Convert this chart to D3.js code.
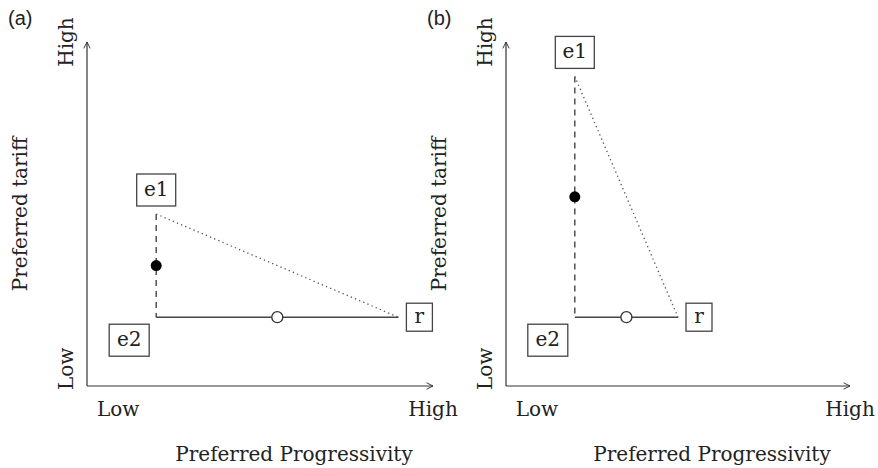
<!DOCTYPE html>
<html>
<head>
<meta charset="utf-8">
<script src="https://cdn.jsdelivr.net/npm/d3@7"></script>
<style>
    body { margin: 0; background: #fff; }
    svg text { fill: #222; }
</style>
</head>
<body>
<svg id="chart" width="878" height="468"></svg>
<script>
// abstract positions on a 0..10 scale for each panel
let panelNames = ["(a)", "(b)"];
let pointNames = ["e1", "e2", "r"];
let pointsA = [[2, 5], [2, 2], [9, 2]];
let pointsB = [[2, 9], [2, 2], [5, 2]];
let filledA = [2, 3.5], openA = [5.5, 2];
let filledB = [2, 5.5], openB = [3.5, 2];
let axisTickLabels = ["Low", "High"];
let xTitle = "Preferred Progressivity";
let yTitle = "Preferred tariff";

let panels = [
    { name: panelNames[0], points: pointsA, filled: filledA, open: openA, left: 87, right: 433 },
    { name: panelNames[1], points: pointsB, filled: filledB, open: openB, left: 506, right: 850 },
];

let svg = d3.select("#chart");
let defs = svg.append("defs");
defs.append("marker")
    .attr("id", "arrow")
    .attr("viewBox", "0 0 10 10")
    .attr("refX", 9).attr("refY", 5)
    .attr("markerWidth", 8).attr("markerHeight", 8)
    .attr("markerUnits", "userSpaceOnUse")
    .attr("orient", "auto")
    .append("path")
    .attr("d", "M1,1 L9,5 L1,9")
    .attr("fill", "none")
    .attr("stroke", "#333")
    .attr("stroke-width", 1.2);

let serif = "DejaVu Serif";
let fontSize = 20;
let boxOffsets = {
    e1: [0, -24],
    e2: [-27, 23],
    r: [21, 0],
};
let boxSizes = {
    e1: [39, 32],
    e2: [40, 32],
    r: [26, 28],
};

for (let panel of panels) {
    let x = d3.scaleLinear().domain([0, 10]).range([panel.left, panel.right]);
    let y = d3.scaleLinear().domain([0, 10]).range([386, 42]);
    let g = svg.append("g");

    // axes
    g.append("line")
        .attr("x1", x(0)).attr("y1", y(0)).attr("x2", x(10)).attr("y2", y(0))
        .attr("stroke", "#333").attr("stroke-width", 1.2)
        .attr("marker-end", "url(#arrow)");
    g.append("line")
        .attr("x1", x(0)).attr("y1", y(0)).attr("x2", x(0)).attr("y2", y(10))
        .attr("stroke", "#333").attr("stroke-width", 1.2)
        .attr("marker-end", "url(#arrow)");

    // panel tag
    g.append("text")
        .attr("x", panel.left - 79)
        .attr("y", 25)
        .attr("font-family", "Liberation Sans")
        .attr("font-size", 20)
        .text(panel.name);

    // tick labels on x
    g.append("text")
        .attr("x", x(0.9)).attr("y", 416)
        .attr("text-anchor", "middle")
        .attr("font-family", serif).attr("font-size", fontSize)
        .text(axisTickLabels[0]);
    g.append("text")
        .attr("x", x(10)).attr("y", 416)
        .attr("text-anchor", "middle")
        .attr("font-family", serif).attr("font-size", fontSize)
        .text(axisTickLabels[1]);
    g.append("text")
        .attr("x", (x(0) + x(10)) / 2 + 34).attr("y", 461)
        .attr("text-anchor", "middle")
        .attr("font-family", serif).attr("font-size", fontSize)
        .text(xTitle);

    // tick labels on y (rotated)
    let yLabelX = x(0) - 14;
    g.append("text")
        .attr("transform", `translate(${yLabelX}, ${y(0.5)}) rotate(-90)`)
        .attr("text-anchor", "middle")
        .attr("font-family", serif).attr("font-size", fontSize)
        .text(axisTickLabels[0]);
    g.append("text")
        .attr("transform", `translate(${yLabelX}, ${y(10)}) rotate(-90)`)
        .attr("text-anchor", "middle")
        .attr("font-family", serif).attr("font-size", fontSize)
        .text(axisTickLabels[1]);
    g.append("text")
        .attr("transform", `translate(${x(0) - 60}, ${y(5)}) rotate(-90)`)
        .attr("text-anchor", "middle")
        .attr("font-family", serif).attr("font-size", fontSize)
        .text(yTitle);

    let [e1, e2, r] = panel.points;

    // e1-e2 dashed
    g.append("line")
        .attr("x1", x(e1[0])).attr("y1", y(e1[1])).attr("x2", x(e2[0])).attr("y2", y(e2[1]))
        .attr("stroke", "#444").attr("stroke-width", 1.4)
        .attr("stroke-dasharray", "6,5");
    // e2-r solid
    g.append("line")
        .attr("x1", x(e2[0])).attr("y1", y(e2[1])).attr("x2", x(r[0])).attr("y2", y(r[1]))
        .attr("stroke", "#444").attr("stroke-width", 1.4);
    // e1-r dotted
    g.append("line")
        .attr("x1", x(e1[0])).attr("y1", y(e1[1])).attr("x2", x(r[0])).attr("y2", y(r[1]))
        .attr("stroke", "#555").attr("stroke-width", 1.3)
        .attr("stroke-dasharray", "1.3,3.2");

    g.append("circle")
        .attr("cx", x(panel.filled[0])).attr("cy", y(panel.filled[1]))
        .attr("r", 5.5).attr("fill", "#000");
    g.append("circle")
        .attr("cx", x(panel.open[0])).attr("cy", y(panel.open[1]))
        .attr("r", 5.5).attr("fill", "#fff")
        .attr("stroke", "#333").attr("stroke-width", 1.3);

    // label boxes
    panel.points.forEach((p, i) => {
        let name = pointNames[i];
        let cx = x(p[0]) + boxOffsets[name][0];
        let cy = y(p[1]) + boxOffsets[name][1];
        let [w, h] = boxSizes[name];
        g.append("rect")
            .attr("x", cx - w / 2).attr("y", cy - h / 2)
            .attr("width", w).attr("height", h)
            .attr("fill", "#fff").attr("stroke", "#444").attr("stroke-width", 1.3);
        g.append("text")
            .attr("x", cx).attr("y", cy + 6)
            .attr("text-anchor", "middle")
            .attr("font-family", serif).attr("font-size", fontSize)
            .text(name);
    });
}
</script>
</body>
</html>
